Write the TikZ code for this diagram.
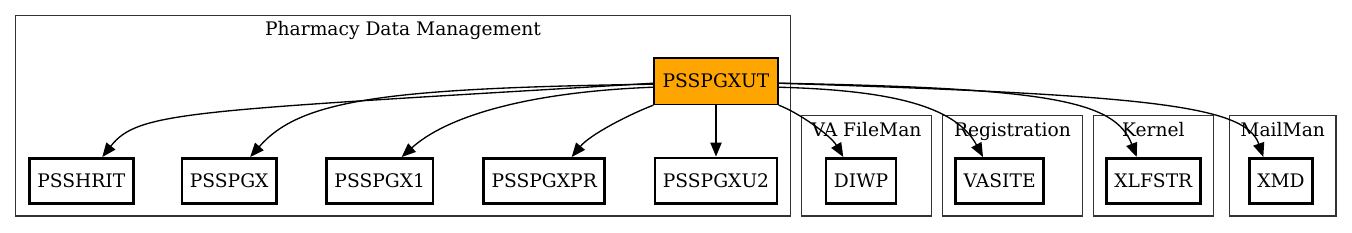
\documentclass[tikz,border=0pt]{standalone}
\usepackage{fontspec}
\setmainfont{DejaVu Serif}
\usepackage{xcolor}
\definecolor{rootfill}{HTML}{FFA500}
\usetikzlibrary{arrows.meta,positioning,calc}
\tikzset{
  modbox/.style={rectangle, draw=black, line width=2pt, fill=white,
               minimum height=34pt, inner xsep=6pt,
               font=\fontsize{14}{17}\selectfont},
  rootbox/.style={rectangle, draw=black, line width=1pt, fill=rootfill,
               minimum height=35pt, inner xsep=6.5pt,
               font=\fontsize{14}{17}\selectfont},
  cluster/.style={draw=black!80, line width=1pt},
  clabel/.style={anchor=base, inner sep=0pt, font=\fontsize{14}{17}\selectfont},
  call/.style={-{Triangle[length=10.5pt,width=8.5pt]}, line width=1pt, black},
}

\begin{document}
\begin{tikzpicture}[x=0.75pt, y=-0.75pt]
  \useasboundingbox (0,0) rectangle (1352,232);

  \draw[cluster] (15.7,15.7)  rectangle (790.7,216);
  \draw[cluster] (801.3,115.7) rectangle (931.7,216);
  \draw[cluster] (942.7,115.7) rectangle (1082.3,216);
  \draw[cluster] (1093.3,115.7) rectangle (1213.3,216);
  \draw[cluster] (1229.3,115.7) rectangle (1336,216);

  \node[clabel] (lpdm)  at (403,36)     {Pharmacy Data Management};
  \node[clabel] (lfm)   at (866.5,136)  {VA FileMan};
  \node[clabel] (lreg)  at (1012.5,136) {Registration};
  \node[clabel] (lker)  at (1153.3,136) {Kernel};
  \node[clabel] (lmail) at (1282.7,136) {MailMan};

  \node[rootbox] (ut) at (716,81.2) {PSSPGXUT};

  \node[modbox] (hrit)    at (81.3,181)  {PSSHRIT};
  \node[modbox] (pgx)     at (229.2,181) {PSSPGX};
  \node[modbox] (pgxone)  at (379.7,181) {PSSPGX1};
  \node[modbox] (pgxpr)   at (544.2,181) {PSSPGXPR};
  \node[modbox, below=38.5pt of ut] (pgxutwo) {PSSPGXU2};
  \node[modbox] (diwp)    at (861,181)    {DIWP};
  \node[modbox] (vasite)  at (999.7,181)  {VASITE};
  \node[modbox] (xlfstr)  at (1153.3,181) {XLFSTR};
  \node[modbox] (xmd)     at (1281,181)   {XMD};

  \draw[call] ($(ut.west)+(0,2)$) .. controls +(-466,28) and +(36,-46) .. ($(hrit.north)+(21,0)$);
  \draw[call] ($(ut.west)+(0,3)$) .. controls +(-271,4) and +(50,-57) .. ($(pgx.north)+(21,0)$);
  \draw[call] ($(ut.west)+(0,6)$) .. controls +(-131,5) and +(43,-39) .. ($(pgxone.north)+(22,0)$);
  \draw[call] (ut.south west) .. controls +(-26,10) and +(18,-22) .. ($(pgxpr.north)+(27.5,0)$);
  \draw[call] (ut) -- (pgxutwo);
  \draw[call] (ut.south east) .. controls +(19,7) and +(-13,-22) .. ($(diwp.north)+(-17.7,0)$);
  \draw[call] ($(ut.east)+(0,6)$) .. controls +(109,3) and +(-28,-52) .. ($(vasite.north)+(-16.7,0)$);
  \draw[call] ($(ut.east)+(0,2)$) .. controls +(269,5) and +(-22,-57) .. ($(xlfstr.north)+(-16.6,0)$);
  \draw[call] ($(ut.east)+(0,2)$) .. controls +(369,12) and +(-18,-52) .. ($(xmd.north)+(-17.7,0)$);
\end{tikzpicture}
\end{document}
